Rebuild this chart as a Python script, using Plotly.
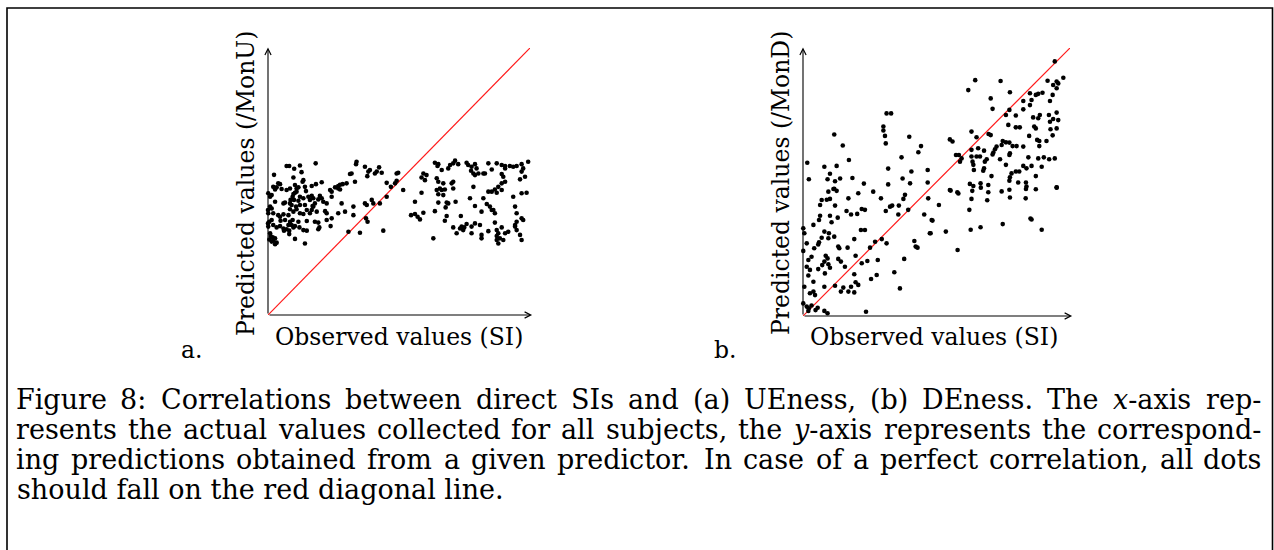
import re
import plotly.graph_objects as go

# ---------------- data (arbitrary 0-100 scale) ----------------
ue_observed = [
    7.1, 8.1, 10.0, 12.2, 18.2, 33.8, 33.6, 31.9, 31.3, 37.0, 38.3, 38.9, 40.8, 41.5, 42.4, 43.4, 37.9, 49.1,
    2.3, 12.8, 13.5, 13.2, 9.7, 10.3, 3.9, 4.6, 2.0, 2.7, 3.3, 5.2, 7.1, 8.4, 10.9, 11.6, 14.1, 14.5, 16.7, 18.3,
    20.5, 23.7, 24.3, 25.6, 26.8, 27.5, 28.5, 30.0, 27.5, 26.8, 33.2, 45.3, 49.1, 48.5, 46.9,
    0.1, 0.8, 1.4, 9.7, 9.4, 10.3, 10.9, 8.6, 8.4, 9.9, 11.6, 12.2, 13.5, 15.4, 16.0, 16.7, 17.3, 19.2, 19.8,
    20.5, 21.1, 22.4, 17.9, 17.0, 14.1, 12.2, 10.7, 9.0, 6.5, 5.9, 2.7, 1.4, 0.8, 0.0, 0.1, 2.0, 24.3, 28.1,
    32.6, 37.0, 40.2, 39.6, 42.7, 45.3, 37.7,
    3.9, 4.6, 5.9, 7.8, 8.4, 9.7, 10.9, 12.2, 13.5, 14.8, 16.0, 16.7, 17.3, 18.6, 21.8, 22.4, 26.8, 29.4, 24.3,
    22.4, 17.9, 19.2, 14.8, 11.6, 9.4, 8.4, 6.5, 4.8, 1.4, 0.5, 0.0,
    2.0, 0.1, 3.3, 4.6, 5.9, 6.1, 7.8, 9.0, 9.7, 10.3, 8.1, 7.1, 12.0, 13.5, 14.8, 19.6, 19.2, 23.9, 30.7, 35.1,
    37.4, 38.0, 32.6, 44.0, 8.1, 10.3, 14.1, 0.8, 1.0, 1.8, 2.7, 0.5, 2.0, 3.3, 2.7, 1.4,
    63.7, 65.0, 64.7, 71.4, 70.7, 69.5, 72.6, 75.8, 76.4, 77.7, 79.0, 79.6, 77.5, 78.4, 79.0, 80.3, 82.2, 82.8,
    84.1, 87.3, 85.4, 89.2, 90.5, 92.3, 93.6, 94.9, 96.8, 97.4, 99.3, 90.5, 89.2, 89.8, 90.5, 96.8, 96.2, 98.1,
    49.7, 59.3, 60.5, 59.9, 58.6, 64.4, 65.0, 66.3, 68.8, 70.7, 70.1, 66.9, 65.6, 64.4, 65.0, 66.9, 67.5, 66.3,
    70.7, 78.4, 84.1, 85.4, 87.3, 86.6, 89.2, 87.9, 89.2,
    51.6, 58.6, 56.1, 65.0, 68.2, 68.8, 67.8, 71.6, 77.1, 82.2, 79.0, 83.5, 81.5, 84.7, 85.4, 86.0, 86.6, 93.6,
    96.8, 98.7, 94.3, 94.9, 96.8, 97.4, 94.9, 94.3,
    54.6, 56.1, 57.1, 58.0, 59.3, 63.7, 68.2, 67.5, 73.6, 75.8, 74.9, 73.9, 74.5, 73.3, 70.7, 72.0, 79.0, 77.7,
    80.9, 77.7, 81.5, 81.5, 84.1, 86.6, 87.3, 89.2, 87.9, 87.3, 88.5, 87.3, 89.8, 91.7, 90.5, 87.9, 94.3, 94.9,
    96.2, 96.8, 63.1,
]
ue_predicted = [
    55.8, 55.8, 54.8, 56.0, 56.8, 57.4, 56.5, 53.0, 52.8, 55.5, 53.7, 54.3, 53.0, 53.7, 55.3, 53.3, 52.0, 53.0,
    52.5, 53.5, 50.5, 49.9, 51.5, 48.7, 49.3, 49.0, 48.0, 47.0, 47.8, 47.2, 46.8, 47.4, 47.4, 47.8, 48.0, 46.4, 48.3, 49.0,
    49.7, 46.8, 46.2, 47.8, 48.3, 48.8, 49.0, 49.3, 47.0, 47.4, 49.9, 49.5, 50.3, 49.3, 48.0,
    45.6, 44.3, 44.9, 45.3, 44.3, 45.8, 46.2, 43.1, 41.8, 43.1, 42.8, 44.3, 43.7, 44.3, 43.1, 44.6, 43.7, 43.3, 44.6,
    43.7, 42.4, 41.8, 41.8, 40.8, 41.2, 41.2, 40.6, 41.2, 42.1, 41.8, 42.4, 39.9, 40.6, 39.3, 38.1, 38.1, 44.3, 41.8,
    40.6, 41.8, 41.8, 43.1, 41.8, 44.3, 41.2,
    37.4, 36.8, 37.7, 37.4, 39.6, 38.7, 39.6, 38.1, 37.8, 39.3, 38.1, 39.3, 40.6, 38.7, 38.9, 38.1, 38.1, 38.7, 36.2,
    35.6, 34.9, 34.6, 35.2, 34.9, 35.6, 34.9, 35.6, 35.3, 35.6, 34.9, 34.3,
    33.7, 33.1, 32.8, 33.3, 32.4, 31.6, 33.7, 33.7, 32.8, 33.3, 31.6, 32.1, 32.8, 31.8, 31.6, 32.8, 32.1, 33.3, 31.2, 30.8,
    36.2, 34.9, 37.4, 31.6, 30.3, 28.5, 26.8, 30.6, 29.6, 29.1, 28.7, 28.3, 27.8, 27.1, 26.5, 27.5,
    57.0, 56.5, 55.8, 57.8, 56.8, 56.2, 56.5, 57.0, 56.2, 55.5, 56.5, 54.9, 54.0, 53.0, 52.4, 53.0, 53.0, 53.0,
    56.8, 56.8, 54.5, 56.2, 55.8, 55.8, 55.5, 55.8, 56.5, 54.9, 57.4, 54.9, 52.8, 51.8, 49.9, 53.7, 50.8, 51.8,
    53.3, 53.0, 52.4, 50.5, 51.5, 51.2, 49.9, 54.3, 54.9, 49.9, 49.3, 49.3, 47.4, 46.8, 45.2, 44.9, 47.0, 46.8,
    47.4, 48.0, 46.2, 46.2, 45.8, 47.0, 46.8, 48.0, 49.3,
    46.8, 45.8, 42.4, 42.1, 42.1, 41.8, 40.3, 42.4, 43.7, 43.7, 40.8, 41.6, 38.7, 40.6, 39.3, 39.3, 38.1, 44.3,
    45.6, 45.8, 40.6, 38.1, 36.2, 35.6, 34.9, 33.7,
    37.4, 37.8, 36.8, 35.8, 38.3, 38.9, 37.1, 35.3, 37.1, 34.1, 32.8, 33.1, 31.8, 32.4, 32.8, 30.6, 34.3, 33.1,
    33.7, 30.6, 30.0, 28.7, 31.4, 34.6, 31.8, 32.8, 30.6, 29.6, 28.7, 28.1, 28.1, 31.2, 30.6, 26.8, 33.1, 31.8,
    30.0, 28.1, 28.7,
]

de_observed = [
    31.3, 33.0, 11.7, 30.1, 30.1, 30.7, 31.0, 14.9, 39.8, 44.2, 43.2, 1.6, 8.0, 12.6, 17.2, 36.9, 31.9, 40.6,
    46.7, 2.2, 9.2, 10.1, 12.0, 13.9, 18.5, 22.8, 31.9, 37.3, 40.1, 46.7, 11.7,
    94.3, 97.5, 64.5, 74.0, 91.6, 95.0, 95.6, 93.7, 95.0, 61.9, 77.5, 70.3, 85.0, 87.2, 88.1, 89.7, 82.5, 85.6,
    85.0, 92.5, 93.5, 71.0, 77.3, 82.5, 76.0, 79.7, 86.2, 88.1, 88.7, 92.1, 95.0, 93.7, 95.6, 92.5, 76.9, 79.7,
    81.2, 87.2, 86.6, 92.7, 95.0, 63.1, 55.0, 56.0, 69.5, 70.3, 65.0, 84.7, 87.7, 88.5, 91.2, 93.5, 74.8, 76.0,
    77.3, 74.4, 72.5, 71.9, 71.3, 71.0, 78.5, 80.0, 82.5, 77.5, 88.5, 63.1, 65.6, 67.8, 57.3, 58.4, 59.4, 58.8,
    63.1, 65.0, 66.3, 68.8, 68.1, 63.5, 63.8, 64.0, 73.8, 77.3, 84.4, 88.1, 90.2, 92.2, 94.3, 67.8, 67.5, 76.0,
    82.5, 83.7, 85.6, 89.4, 79.7, 81.0, 78.1, 77.5, 70.6, 87.2, 62.5, 63.8, 66.5, 69.4, 77.3, 80.6, 83.5, 83.7,
    95.0, 55.0,
    9.5, 11.4, 12.6, 20.7, 26.3, 7.0, 8.9, 10.1, 17.0, 29.2, 38.2, 37.6, 6.4, 12.0, 16.3, 18.0, 20.3, 22.0, 23.2,
    31.0, 32.6, 33.4, 35.9, 39.4, 35.7, 46.9, 45.4, 48.2, 47.5, 6.4, 6.0, 10.1, 10.7, 13.0, 3.9, 0.1, 0.5, 8.0,
    9.7, 11.7, 7.0, 9.5, 21.7, 23.2, 19.2, 6.0, 5.7, 1.4, 0.1, 4.2, 13.2, 13.6, 16.7, 27.0, 25.1, 29.5, 31.3,
    41.7, 42.2, 42.9, 3.2, 2.0, 8.5, 9.2, 8.0, 7.2, 9.5, 10.1, 13.2, 14.2, 15.7, 19.7, 22.0, 24.1, 28.0, 37.9,
    1.4, 2.6, 5.7, 8.2, 2.0, 19.2, 27.6, 25.5, 34.2, 3.9, 0.5, 2.6, 3.9, 4.5, 8.0, 12.0, 14.2, 15.1, 17.0, 18.0,
    19.7, 20.7, 19.2, 36.3, 0.1, 1.4, 2.2, 4.7, 5.5, 3.2, 2.0, 8.0, 9.2, 23.6, 8.5, 12.6, 0.7, 2.0,
    55.3, 57.8, 58.2, 63.4, 66.6, 69.4, 74.4, 77.3, 83.5, 87.2, 95.0, 63.1, 69.0, 77.5, 83.4, 50.9, 62.3, 48.5,
    85.2, 85.6, 74.8, 47.8, 53.5, 62.8, 66.5, 89.4, 57.9,
]
de_predicted = [
    75.6, 75.6, 67.7, 70.7, 69.2, 67.2, 64.4, 63.6, 66.9, 63.4, 61.1, 57.2, 55.7, 56.0, 58.2, 59.2, 55.0, 53.9,
    54.5, 51.0, 51.0, 53.1, 50.3, 51.3, 51.5, 49.4, 49.1, 51.3, 49.5, 49.8, 47.5,
    95.0, 88.9, 88.0, 87.7, 87.8, 87.5, 86.8, 86.2, 85.0, 84.3, 83.5, 81.2, 83.1, 82.5, 82.9, 83.3, 80.2, 80.6,
    78.7, 80.2, 82.5, 77.3, 76.9, 77.1, 75.0, 74.8, 74.1, 73.8, 75.0, 75.0, 75.9, 73.5, 73.1, 72.5, 71.3, 70.4,
    70.4, 70.0, 70.7, 69.7, 70.0, 68.8, 65.9, 65.1, 67.9, 67.5, 66.7, 67.2, 65.7, 65.3, 65.3, 67.4, 65.3, 64.8,
    64.7, 63.8, 63.2, 62.2, 61.0, 60.3, 63.4, 63.4, 63.2, 60.7, 63.4, 62.0, 62.6, 61.7, 60.1, 60.1, 58.8, 57.6,
    59.5, 59.5, 59.5, 58.5, 57.6, 57.6, 56.4, 54.5, 58.5, 60.1, 59.2, 58.8, 59.2, 58.5, 58.8, 55.1, 54.2, 56.4,
    56.0, 55.1, 56.0, 55.7, 53.9, 53.9, 53.2, 51.8, 52.2, 52.2, 49.3, 48.5, 49.5, 48.9, 50.5, 49.8, 49.8, 48.3,
    48.0, 47.0,
    46.4, 47.4, 46.7, 45.8, 46.4, 43.3, 43.4, 43.7, 43.9, 43.9, 45.2, 43.7, 41.4, 41.2, 39.2, 37.9, 38.1, 39.9, 39.6,
    39.2, 40.8, 41.2, 41.2, 39.6, 37.9, 43.9, 37.9, 35.8, 30.9, 37.4, 35.8, 37.4, 35.0, 36.7, 34.0, 32.7, 30.9, 31.5,
    30.9, 29.6, 29.2, 29.0, 32.1, 32.1, 28.7, 27.5, 26.7, 27.1, 24.3, 25.3, 25.9, 25.3, 25.5, 27.7, 25.5, 28.7, 27.1,
    28.0, 25.9, 25.5, 22.1, 20.9, 22.5, 21.5, 20.3, 19.0, 19.3, 18.0, 21.3, 20.3, 18.4, 22.5, 19.7, 20.5, 20.9, 21.3,
    18.4, 17.2, 17.5, 15.9, 15.1, 15.6, 15.3, 13.8, 16.3, 12.8, 10.9, 8.5, 9.1, 7.8, 10.9, 11.3, 9.1, 10.6, 9.1, 10.9,
    12.6, 11.6, 8.8, 10.3, 4.7, 3.5, 2.9, 2.2, 3.1, 3.9, 1.9, 1.9, 1.0, 1.6, -1.1, -2.7, -4.6, -4.4,
    46.8, 46.2, 45.7, 46.7, 47.9, 46.2, 46.5, 47.1, 47.4, 47.3, 47.9, 43.7, 43.2, 44.2, 43.9, 41.4, 39.6, 35.6,
    36.4, 36.0, 34.3, 30.9, 31.5, 32.2, 33.1, 32.2, 24.6,
]

diagonal = [0, 100]          # perfect-correlation line, from origin to the axis maximum
axis_extent = [0, 100]       # observed/predicted axis ranges

x_title = "Observed values (SI)"
y_titles = ["Predicted values (/MonU)", "Predicted values (/MonD)"]
panel_tags = ["a.", "b."]
caption_lines = [
    "Figure 8: Correlations between direct SIs and (a) UEness, (b) DEness. The <i>x</i>-axis rep-",
    "resents the actual values collected for all subjects, the <i>y</i>-axis represents the correspond-",
    "ing predictions obtained from a given predictor. In case of a perfect correlation, all dots",
    "should fall on the red diagonal line.",
]
caption_justified = [True, True, True, False]

# ---------------- figure ----------------
W, H = 1274, 550
FONT = "DejaVu Serif"


def px(x):
    return x / W


def py(y):
    return 1 - y / H


fig = go.Figure()

panels = [("x", "y", ue_observed, ue_predicted), ("x2", "y2", de_observed, de_predicted)]
for xa, ya, xs, ys in panels:
    fig.add_trace(go.Scatter(x=diagonal, y=diagonal, mode="lines", xaxis=xa, yaxis=ya,
                             line=dict(color="#ff1a1a", width=1.2), hoverinfo="skip"))
    fig.add_trace(go.Scatter(x=xs, y=ys, mode="markers", xaxis=xa, yaxis=ya, cliponaxis=False,
                             marker=dict(color="black", size=4.6, line=dict(width=0))))

ax_common = dict(visible=False, range=axis_extent, fixedrange=True)
fig.update_layout(
    width=W, height=H, margin=dict(l=0, r=0, t=0, b=0), autosize=False,
    paper_bgcolor="white", plot_bgcolor="white", showlegend=False,
    xaxis=dict(domain=[px(268), px(530)], anchor="y", **ax_common),
    yaxis=dict(domain=[py(315), py(48)], anchor="x", **ax_common),
    xaxis2=dict(domain=[px(803), px(1070)], anchor="y2", **ax_common),
    yaxis2=dict(domain=[py(316), py(48)], anchor="x2", **ax_common),
)

annotations = []
# axes drawn as arrows in data coordinates
for xa, ya in [("x", "y"), ("x2", "y2")]:
    for tip in [(axis_extent[1] + 0.8, 0), (0, axis_extent[1] + 0.2)]:
        annotations.append(dict(x=tip[0], y=tip[1], ax=0, ay=0, xref=xa, yref=ya, axref=xa, ayref=ya,
                                text="", showarrow=True, arrowhead=5, arrowsize=1.1, arrowwidth=1.1,
                                arrowcolor="black", standoff=0, startstandoff=0))

label_font = dict(family=FONT, size=23.5, color="black")
for cx in [399, 934]:
    annotations.append(dict(x=px(cx), y=py(337), xref="paper", yref="paper", text=x_title,
                            showarrow=False, xanchor="center", yanchor="middle", font=label_font))
for (ycx, tag_x), ttl, tag in zip([(246, 191), (781, 725)], y_titles, panel_tags):
    annotations.append(dict(x=px(ycx), y=py(183), xref="paper", yref="paper", text=ttl, textangle=-90,
                            showarrow=False, xanchor="center", yanchor="middle", font=label_font))
    annotations.append(dict(x=px(tag_x), y=py(350), xref="paper", yref="paper", text=tag,
                            showarrow=False, xanchor="center", yanchor="middle", font=label_font))

# approximate DejaVu Serif advance widths (units of 1/2048 em) used to justify the caption
ADV = {
    " ": 651, "(": 799, ")": 799, ",": 651, "-": 739, ".": 651, ":": 690, "8": 1303,
    "A": 1479, "C": 1464, "D": 1600, "E": 1413, "F": 1321, "I": 823, "S": 1339, "T": 1382, "U": 1659,
    "a": 1221, "b": 1313, "c": 1141, "d": 1313, "e": 1212, "f": 767, "g": 1313, "h": 1337,
    "i": 660, "j": 654, "k": 1257, "l": 660, "m": 1987, "n": 1337, "o": 1233, "p": 1313,
    "q": 1313, "r": 981, "s": 1073, "t": 815, "u": 1337, "v": 1188, "w": 1745, "x": 1188,
    "y": 1188, "z": 1085,
}
CAP_SIZE = 27
LEFT, RIGHT = 15, 1262


def word_width(word):
    plain = re.sub(r"<[^>]+>", "", word)
    return sum(ADV.get(c, 1250) for c in plain) / 2048 * CAP_SIZE


cap_font = dict(family=FONT, size=CAP_SIZE, color="black")
for i, (line, just) in enumerate(zip(caption_lines, caption_justified)):
    yc = py(399 + 30.3 * i)
    if not just:
        annotations.append(dict(x=px(LEFT), y=yc, xref="paper", yref="paper", text=line,
                                showarrow=False, xanchor="left", yanchor="middle", font=cap_font))
        continue
    words = line.split(" ")
    widths = [word_width(w) for w in words]
    gap = (RIGHT - LEFT - sum(widths)) / (len(words) - 1)
    xpos = LEFT
    for j, (wd, wdt) in enumerate(zip(words, widths)):
        last = j == len(words) - 1
        annotations.append(dict(x=px(RIGHT if last else xpos), y=yc, xref="paper", yref="paper", text=wd,
                                showarrow=False, xanchor="right" if last else "left", yanchor="middle",
                                font=cap_font, borderpad=0))
        xpos += wdt + gap

fig.update_layout(annotations=annotations)

# outer frame of the figure box
fig.add_shape(type="rect", xref="paper", yref="paper", x0=px(7), x1=px(1272.5), y0=-0.2, y1=py(8),
              line=dict(color="black", width=1.6), fillcolor="rgba(0,0,0,0)", layer="above")

fig.write_html("out.html", config={"displayModeBar": False},
               post_script="document.body.style.margin='0px';document.body.style.overflow='hidden';")
